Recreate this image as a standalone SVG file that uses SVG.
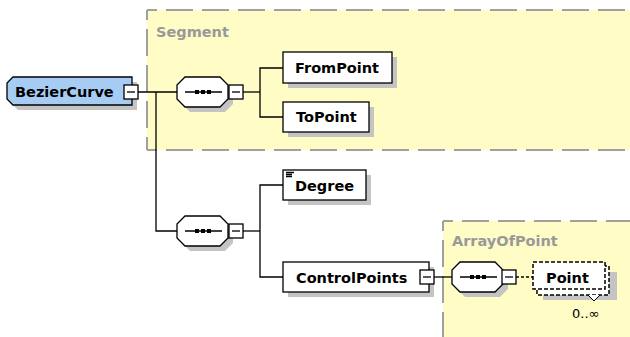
<svg xmlns="http://www.w3.org/2000/svg" width="630" height="337" viewBox="0 0 630 337">
<defs>
<style>
.grp{fill:#fffcc6;stroke:none}
.gb{fill:none;stroke:#a0a0a0;stroke-width:2;stroke-dasharray:27 9}
.glabel{font-family:"DejaVu Sans",Verdana,sans-serif;font-weight:bold;font-size:14.5px;fill:#999999}
.sh{fill:#c4c4c4;stroke:none}
.box{fill:#ffffff;stroke:#000000;stroke-width:1.3}
.dbox{fill:#ffffff;stroke:#000000;stroke-width:1.5;stroke-dasharray:4 2}
.lbl{font-family:"DejaVu Sans",Verdana,sans-serif;font-weight:bold;font-size:14.5px;fill:#000000}
.occ{font-family:"DejaVu Sans",Verdana,sans-serif;font-size:13px;fill:#000000}
.ln{fill:none;stroke:#000000;stroke-width:1.3}
.dln{fill:none;stroke:#000000;stroke-width:1.3;stroke-dasharray:3 2}
.dot{fill:#000000}
</style>
<path id="oct" d="M8,0 H43 L51,8 V22 L43,30 H8 L0,22 V8 Z"/>
<g id="minus"><rect class="box" x="0" y="0" width="14" height="14"/><line class="ln" x1="3" y1="7" x2="11" y2="7"/></g>
<g id="seqsym"><line class="ln" x1="8" y1="15" x2="45" y2="15"/><rect class="dot" x="18" y="13" width="4" height="4"/><rect class="dot" x="24" y="13" width="4" height="4"/><rect class="dot" x="30" y="13" width="4" height="4"/></g>
</defs>
<rect width="630" height="337" fill="#ffffff"/>

<g id="Segment">
<rect class="grp" x="147" y="10" width="490" height="140"/>
<path class="gb" d="M147,10 H640" stroke-dashoffset="17"/>
<path class="gb" d="M147,150 H640" stroke-dashoffset="17"/>
<path class="gb" d="M147,10 V150" stroke-dashoffset="17"/>
<text class="glabel" x="156" y="37">Segment</text>
</g>

<g id="ArrayOfPoint">
<rect class="grp" x="443" y="221" width="200" height="130"/>
<path class="gb" d="M443,221 H640" stroke-dashoffset="17"/>
<path class="gb" d="M443,221 V345" stroke-dashoffset="17"/>
<text class="glabel" x="452" y="246">ArrayOfPoint</text>
</g>

<g id="connectors">
<path class="ln" d="M138,92 H177"/>
<path class="ln" d="M156,92 V231 H177"/>
<path class="ln" d="M243,92 H260"/>
<path class="ln" d="M283,68 H260 V117 H283"/>
<path class="ln" d="M243,231 H260"/>
<path class="ln" d="M283,185 H260 V277 H283"/>
<path class="ln" d="M434,277 H452"/>
<path class="dln" d="M516,277 H533"/>
</g>

<g id="BezierCurve">
<path class="sh" d="M18,82 H137 V110 H18 L12,104 V88 Z"/>
<path d="M13,77 H132 V105 H13 L7,99 V83 Z" fill="#a6ccf4" stroke="#000" stroke-width="1.3"/>
<text class="lbl" x="15" y="97">BezierCurve</text>
<use href="#minus" x="124" y="85"/>
</g>

<g id="sequence1">
<use href="#oct" class="sh" x="182" y="82"/>
<use href="#oct" class="box" x="177" y="77"/>
<use href="#seqsym" x="177" y="77"/>
<use href="#minus" x="229" y="85"/>
</g>

<g id="FromPoint">
<rect class="sh" x="288" y="57" width="109" height="31"/>
<rect class="box" x="283" y="52" width="109" height="31"/>
<text class="lbl" x="295" y="73">FromPoint</text>
</g>

<g id="ToPoint">
<rect class="sh" x="288" y="107" width="86" height="30"/>
<rect class="box" x="283" y="102" width="86" height="30"/>
<text class="lbl" x="296" y="122">ToPoint</text>
</g>

<g id="sequence2">
<use href="#oct" class="sh" x="182" y="221"/>
<use href="#oct" class="box" x="177" y="216"/>
<use href="#seqsym" x="177" y="216"/>
<use href="#minus" x="229" y="224"/>
</g>

<g id="Degree">
<rect class="sh" x="288" y="175" width="83" height="30"/>
<rect class="box" x="283" y="170" width="83" height="30"/>
<path class="ln" d="M286,172.5 H294 M286,174.5 H292 M286,176.5 H292" stroke-width="1"/>
<text class="lbl" x="295" y="191">Degree</text>
</g>

<g id="ControlPoints">
<rect class="sh" x="288" y="267" width="146" height="30"/>
<rect class="box" x="283" y="262" width="146" height="30"/>
<text class="lbl" x="296" y="283">ControlPoints</text>
<use href="#minus" x="420" y="270"/>
</g>

<g id="sequence3">
<use href="#oct" class="sh" x="457" y="267"/>
<use href="#oct" class="box" x="452" y="262"/>
<use href="#seqsym" x="452" y="262"/>
<use href="#minus" x="502" y="270"/>
</g>

<g id="Point">
<rect class="sh" x="543" y="272" width="74" height="28"/>
<rect class="dbox" x="537" y="266" width="72" height="29"/>
<rect class="dbox" x="533" y="262" width="72" height="27"/>
<path d="M588,295 L594,301 L600,295" fill="#ffffff" stroke="#000" stroke-width="1"/>
<text class="lbl" x="546" y="283">Point</text>
<text class="occ" x="572" y="318">0..∞</text>
</g>
</svg>
